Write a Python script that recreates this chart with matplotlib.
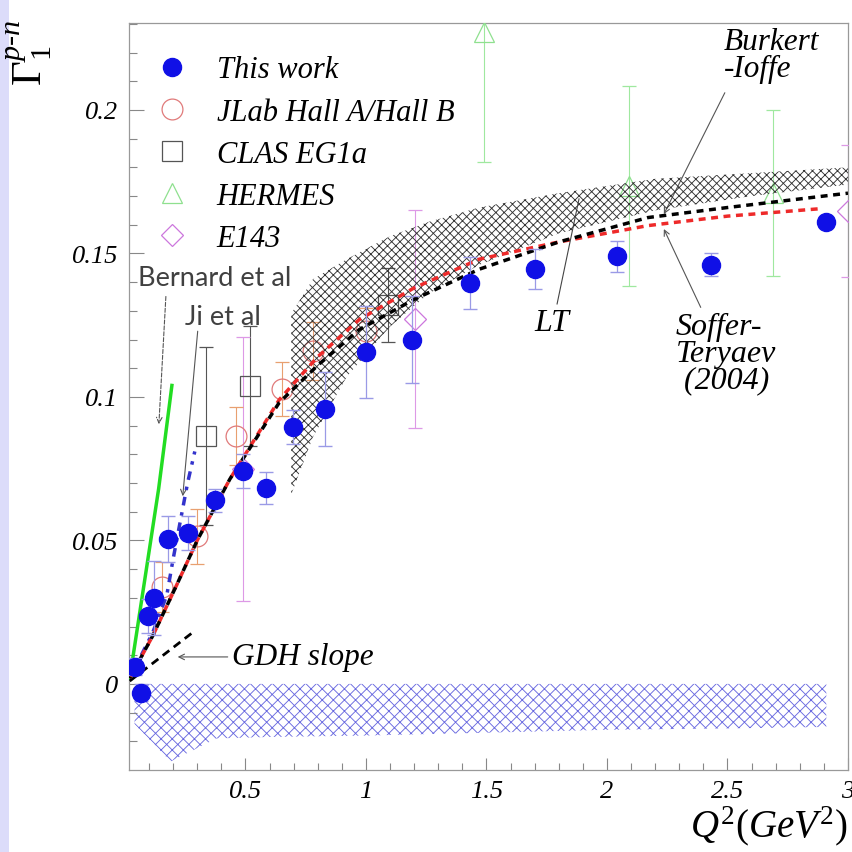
import matplotlib
matplotlib.use('Agg')
from matplotlib import pyplot as plt
from matplotlib.lines import Line2D
from matplotlib.patches import Rectangle

plt.rcParams['mathtext.fontset'] = 'custom'
plt.rcParams['mathtext.rm'] = 'Liberation Serif'
plt.rcParams['mathtext.it'] = 'Liberation Serif:italic'
plt.rcParams['hatch.linewidth'] = 0.65

# ---- data ----
# this work (Gamma_1^{p-n})
q2_tw = [0.04, 0.066, 0.097, 0.12, 0.178, 0.26, 0.373, 0.489, 0.584, 0.696,
         0.832, 1.00, 1.193, 1.433, 1.70, 2.04, 2.43, 2.91]
g_tw = [0.006, -0.003, 0.0237, 0.030, 0.0505, 0.0526, 0.064, 0.0742, 0.0682, 0.0895,
        0.0958, 0.1157, 0.120, 0.1397, 0.1445, 0.149, 0.146, 0.161]
e_tw = [0.003, 0.003, 0.006, 0.013, 0.008, 0.006, 0.004, 0.006, 0.0055, 0.006,
        0.013, 0.016, 0.015, 0.009, 0.007, 0.0055, 0.004, 0.002]

# JLab Hall A / Hall B
q2_jlab = [0.153, 0.30, 0.46, 0.65, 0.78, 1.0]
g_jlab = [0.0338, 0.0515, 0.0864, 0.1027, 0.116, 0.123]
e_jlab = [0.0087, 0.0096, 0.010, 0.0095, 0.010, 0.008]

# CLAS EG1a
q2_clas = [0.335, 0.52, 1.09]
g_clas = [0.0864, 0.1038, 0.132]
e_clas = [0.031, 0.021, 0.013]

# HERMES
q2_hermes = [1.49, 2.09, 2.69]
g_hermes = [0.227, 0.1735, 0.171]
e_hermes = [0.045, 0.035, 0.029]

# E143
q2_e143 = [0.49, 1.205, 3.0]
g_e143 = [0.075, 0.127, 0.1648]
e_e143 = [0.046, 0.038, 0.023]

# systematic band (below zero)
q2_sys = [0.04, 0.04, 0.19, 0.38, 0.6, 1.0, 1.5, 2.0, 2.5, 2.91]
sys_low = [0.0, -0.014, -0.027, -0.019, -0.0185, -0.018, -0.017, -0.016, -0.0155, -0.015]

# leading twist band
q2_lt = [0.69, 0.78, 0.92, 1.1, 1.26, 1.47, 1.8, 2.2, 2.6, 3.0]
lt_up = [0.129, 0.141, 0.148, 0.156, 0.161, 0.166, 0.171, 0.176, 0.178, 0.180]
lt_low = [0.066, 0.086, 0.107, 0.1245, 0.136, 0.146, 0.157, 0.165, 0.170, 0.174]

# model curves
q2_st = [0.02, 0.117, 0.215, 0.30, 0.435, 0.64, 0.80, 0.973, 1.2, 1.47, 1.8, 2.17, 2.5, 2.886]
g_st = [0.002, 0.017, 0.0345, 0.050, 0.0713, 0.099, 0.114, 0.127, 0.138, 0.148, 0.154, 0.1597, 0.163, 0.1656]
q2_bi = [0.02, 0.117, 0.215, 0.30, 0.435, 0.64, 0.80, 0.973, 1.2, 1.47, 1.8, 2.17, 2.5, 3.0]
g_bi = [0.002, 0.017, 0.0345, 0.050, 0.0713, 0.098, 0.111, 0.1235, 0.134, 0.1445, 0.154, 0.1625, 0.166, 0.171]

q2_bern = [0.02, 0.08, 0.14, 0.195]
g_bern = [0.002, 0.035, 0.068, 0.104]
q2_ji = [0.02, 0.116, 0.174, 0.20, 0.26, 0.29]
g_ji = [0.002, 0.018, 0.031, 0.0435, 0.070, 0.081]
q2_gdh = [0.02, 0.29]
g_gdh = [0.001, 0.0185]

# ---- figure ----
fig = plt.figure(figsize=(8.53, 8.53), dpi=100)
fig.patches.append(Rectangle((0, 0), 9 / 853, 1, transform=fig.transFigure,
                             facecolor='#dcdcfa', edgecolor='none', zorder=-10))
ax = fig.add_axes([129 / 853, 82 / 853, 719 / 853, 747 / 853])

ax.fill_between(q2_sys, sys_low, 0, facecolor='none', edgecolor='#6a6ae0',
                hatch='xxx', linewidth=0, zorder=1)

ax.errorbar(q2_clas, g_clas, yerr=e_clas, fmt='s', ms=14, mfc='none', mec='#555555',
            ecolor='#555555', elinewidth=0.8, capsize=5, mew=0.9, zorder=3)
ax.errorbar(q2_hermes, g_hermes, yerr=e_hermes, fmt='^', ms=15, mfc='none', mec='#8fe08f',
            ecolor='#9fe89f', elinewidth=0.8, capsize=5, mew=0.9, zorder=3)
ax.errorbar(q2_e143, g_e143, yerr=e_e143, fmt='D', ms=11, mfc='none', mec='#cc77dd',
            ecolor='#dd99e6', elinewidth=0.8, capsize=5, mew=0.9, zorder=3)
ax.errorbar(q2_jlab, g_jlab, yerr=e_jlab, fmt='o', ms=15, mfc='none', mec='#e07a7a',
            ecolor='#e8a070', elinewidth=0.8, capsize=5, mew=0.9, zorder=3)

ax.fill_between(q2_lt, lt_low, lt_up, facecolor='none', edgecolor='#333333',
                hatch='xxxx', linewidth=0, zorder=4)

ax.plot(q2_bern, g_bern, color='#22dd22', lw=2.5, zorder=5)
ax.plot(q2_ji, g_ji, color='#3333cc', lw=2.5, ls=(0, (2.5, 2, 1, 2)), zorder=5)
ax.plot(q2_gdh, g_gdh, color='black', lw=2, ls=(0, (3, 2)), zorder=5)
ax.plot(q2_st, g_st, color='#ee2a2a', lw=2.5, ls=(0, (2, 1.6)), zorder=5)
ax.plot(q2_bi, g_bi, color='black', lw=2.5, ls=(1.5, (2, 1.6)), zorder=5)

ax.errorbar(q2_tw, g_tw, yerr=e_tw, fmt='o', ms=13, color='#1010e6', mec='#1010e6',
            ecolor='#9a9ae6', elinewidth=0.9, capsize=5, zorder=6)

ax.set_xlim(0.017, 3.0)
ax.set_ylim(-0.03, 0.2303)
ax.set_xticks([0.5, 1, 1.5, 2, 2.5, 3])
ax.set_xticklabels(['0.5', '1', '1.5', '2', '2.5', '3'])
ax.set_yticks([0, 0.05, 0.1, 0.15, 0.2])
ax.set_yticklabels(['0', '0.05', '0.1', '0.15', '0.2'])
ax.set_xticks([i / 10 for i in range(1, 30) if i % 5], minor=True)
ax.set_yticks([i / 100 for i in range(-2, 24) if i % 5], minor=True)
for lab in ax.get_xticklabels() + ax.get_yticklabels():
    lab.set_fontfamily('Liberation Serif')
    lab.set_fontstyle('italic')
    lab.set_fontsize(19)
ax.tick_params(which='both', direction='in', color='#888888', width=0.8)
ax.tick_params(axis='y', which='major', length=11, pad=8)
ax.tick_params(axis='y', which='minor', length=6)
ax.tick_params(axis='x', which='major', length=9, pad=7)
ax.tick_params(axis='x', which='minor', length=5)
for sp in ax.spines.values():
    sp.set_color('#999999')
    sp.set_linewidth(0.9)

ser = dict(family='Liberation Serif', style='italic', color='black')

# legend
handles = [
    Line2D([], [], ls='none', marker='o', ms=13, color='#1010e6'),
    Line2D([], [], ls='none', marker='o', ms=15, mfc='none', mec='#e07a7a', mew=0.9),
    Line2D([], [], ls='none', marker='s', ms=14, mfc='none', mec='#555555', mew=0.9),
    Line2D([], [], ls='none', marker='^', ms=15, mfc='none', mec='#8fe08f', mew=0.9),
    Line2D([], [], ls='none', marker='D', ms=11, mfc='none', mec='#cc77dd', mew=0.9),
]
labels = ['This work', 'JLab Hall A/Hall B', 'CLAS EG1a', 'HERMES', 'E143']
ax.legend(handles, labels, loc='upper left', bbox_to_anchor=(0.022, 0.973), frameon=False,
          prop=dict(family='Liberation Serif', style='italic', size=22),
          handlelength=1.0, handletextpad=0.95, labelspacing=0.43, borderaxespad=0)

# annotations
arr = dict(arrowstyle='->', color='#555555', lw=0.8, shrinkA=0, shrinkB=0)
ax.text(0.443, 0.0094, 'GDH slope', fontsize=22.5, va='center', ha='left', **ser)
ax.annotate('', xy=(0.219, 0.0094), xytext=(0.4265, 0.0094), arrowprops=arr)

ax.text(1.772, 0.1261, 'LT', fontsize=23, va='center', ha='center', **ser)
ax.plot([1.793, 1.884], [0.1324, 0.169], color='#444444', lw=0.8, zorder=7)

ax.text(2.485, 0.2288, 'Burkert\n-Ioffe', fontsize=22.5, va='top', ha='left',
        linespacing=0.88, **ser)
ax.annotate('', xy=(2.236, 0.1637), xytext=(2.489, 0.206), arrowprops=arr)

ax.text(2.285, 0.1296, 'Soffer-\nTeryaev\n (2004)', fontsize=23, va='top', ha='left',
        linespacing=0.9, **ser)
ax.annotate('', xy=(2.236, 0.1585), xytext=(2.389, 0.1312), arrowprops=arr)

sans = dict(family='Lato', color='#404040', fontsize=19.5)
ax.text(0.054, 0.1417, 'Bernard et al', va='center', ha='left', **sans)
ax.annotate('', xy=(0.141, 0.0905), xytext=(0.17, 0.135),
            arrowprops=dict(arrowstyle='->', color='#555555', lw=0.8, ls='--',
                            shrinkA=0, shrinkB=0))
ax.text(0.248, 0.128, 'Ji et al', va='center', ha='left', **sans)
ax.annotate('', xy=(0.240, 0.0654), xytext=(0.302, 0.1229), arrowprops=arr)

# axis titles
fig.text(43 / 853, 1 - 86 / 853, r'$\Gamma_{\mathit{1}}^{\mathit{p}\text{-}\mathit{n}}$',
         fontsize=31, rotation=90, rotation_mode='anchor', ha='left', va='baseline')
fig.text(848 / 853, 5 / 853, r'$\mathit{Q}^{\mathit{2}}\mathit{(GeV}^{\mathit{2}}\mathit{)}$',
         fontsize=28, ha='right', va='bottom')

fig.savefig('out.png', dpi=100)
